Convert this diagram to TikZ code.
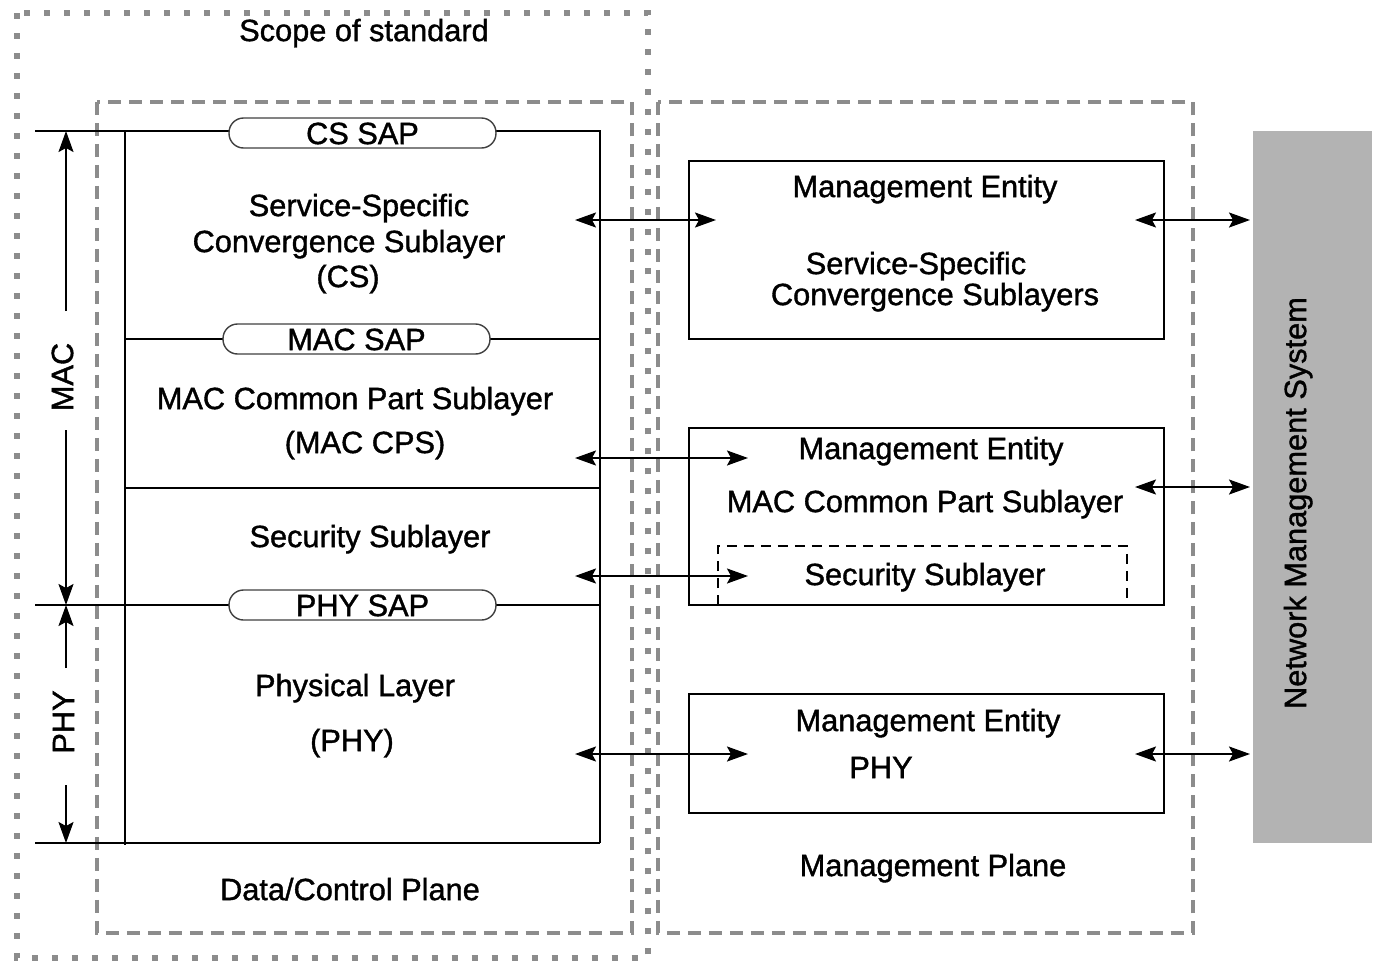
\documentclass[tikz,border=0pt]{standalone}
\usepackage{fontspec}
\setmainfont{Liberation Sans}[UprightFeatures={FakeBold=1.2}]
\usetikzlibrary{arrows.meta}
\definecolor{planegray}{HTML}{8C8C8C}
\definecolor{nmsgray}{HTML}{B3B3B3}
\begin{document}
\begin{tikzpicture}[x=0.02cm,y=-0.02cm,
  txt/.style={font=\fontsize{17.5}{20}\selectfont, inner sep=0pt, text height=12.6pt, text depth=0pt, anchor=center},
  frame/.style={line width=1.1pt, black},
  pill/.style={draw=black!75, line width=0.8pt, fill=white, rounded corners=0.29cm, minimum width=5.34cm, minimum height=0.6cm, inner sep=0pt, font=\fontsize{17.5}{20}\selectfont, text height=12.6pt, text depth=0pt},
  dbl/.style={line width=1.1pt, {Stealth[length=0.42cm,width=0.3cm,inset=0.08cm]}-{Stealth[length=0.42cm,width=0.3cm,inset=0.08cm]}},
  sarr/.style={line width=1.1pt, -{Stealth[length=0.42cm,width=0.3cm,inset=0.08cm]}},
  plane/.style={draw=planegray, line width=2.2pt, dash pattern=on 0.26cm off 0.16cm},
  scopebox/.style={draw=planegray, line width=3.4pt, dash pattern=on 0.12cm off 0.28cm},
  mebox/.style={draw=black, line width=1.1pt, minimum width=9.5cm, inner sep=0pt},
  secbox/.style={draw=black, line width=1.1pt, dash pattern=on 0.2cm off 0.14cm}
]
\useasboundingbox (0,0) rectangle (1376,961);

% scope and planes
\draw[scopebox] (17,13) rectangle (648,958);
\node[txt] (scope) at (364,30) {Scope of standard};
\draw[plane] (97,102) rectangle (632,933);
\draw[plane] (658,102) rectangle (1193,933);
\node[txt] (dcp) at (350,889) {Data/Control Plane};
\node[txt] (mp) at (933,865) {Management Plane};

% left stack frame
\draw[frame] (35,131) -- (600,131) -- (600,843);
\draw[frame] (35,843) -- (600,843);
\draw[frame] (125,131) -- (125,845);
\draw[frame] (125,339) -- (600,339);
\draw[frame] (125,488) -- (600,488);
\draw[frame] (35,605) -- (600,605);

% SAPs
\node[pill] (cssap) at (362.5,133) {CS SAP};
\node[pill] (macsap) at (356.5,339) {MAC SAP};
\node[pill] (physap) at (362.5,605) {PHY SAP};

% left layer texts
\node[txt] (cs1) at (359,205) {Service-Specific};
\node[txt] (cs2) at (349,241) {Convergence Sublayer};
\node[txt] (cs3) at (348,276) {(CS)};
\node[txt] (cps1) at (355,398) {MAC Common Part Sublayer};
\node[txt] (cps2) at (365,442) {(MAC CPS)};
\node[txt] (sec) at (370,536) {Security Sublayer};
\node[txt] (phy1) at (355,685) {Physical Layer};
\node[txt] (phy2) at (352,740) {(PHY)};

% MAC / PHY extents
\node[txt, rotate=90] (maclbl) at (62,377) {MAC};
\node[txt, rotate=90] (phylbl) at (63,722) {PHY};
\coordinate (macA) at (66,311);
\coordinate (macTop) at (66,131);
\coordinate (macB) at (66,430);
\coordinate (macBot) at (66,605);
\coordinate (phyA) at (66,668);
\coordinate (phyTop) at (66,605);
\coordinate (phyB) at (66,785);
\coordinate (phyBot) at (66,843);
\draw[sarr] (macA) -- (macTop);
\draw[sarr] (macB) -- (macBot);
\draw[sarr] (phyA) -- (phyTop);
\draw[sarr] (phyB) -- (phyBot);

% management entities
\node[mebox, minimum height=3.56cm] (me1) at (926.5,250) {};
\node[mebox, minimum height=3.54cm] (me2) at (926.5,516.5) {};
\node[mebox, minimum height=2.38cm] (me3) at (926.5,753.5) {};
\draw[secbox] (718,605) -- (718,546) -- (1127,546) -- (1127,605);

\node[txt] (me1a) at (925,186) {Management Entity};
\node[txt] (me1b) at (916,263) {Service-Specific};
\node[txt] (me1c) at (935,294) {Convergence Sublayers};
\node[txt] (me2a) at (931,448) {Management Entity};
\node[txt] (me2b) at (925,501) {MAC Common Part Sublayer};
\node[txt] (me2c) at (925,574) {Security Sublayer};
\node[txt] (me3a) at (928,720) {Management Entity};
\node[txt] (me3b) at (881,767) {PHY};

% NMS
\node[fill=nmsgray, minimum width=2.38cm, minimum height=14.24cm, inner sep=0pt] (nms) at (1312.5,487) {};
\node[txt, rotate=90] (nmslbl) at (1295,503) {Network Management System};

% data plane <-> management entity arrows
\coordinate (l1) at (575,220); \coordinate (r1) at (716,220);
\coordinate (l2) at (575,458); \coordinate (r2) at (748,458);
\coordinate (l3) at (575,576); \coordinate (r3) at (748,576);
\coordinate (l4) at (575,754); \coordinate (r4) at (748,754);
\draw[dbl] (l1) -- (r1);
\draw[dbl] (l2) -- (r2);
\draw[dbl] (l3) -- (r3);
\draw[dbl] (l4) -- (r4);

% management entity <-> NMS arrows
\coordinate (m1) at (1135,220); \coordinate (n1) at (1250,220);
\coordinate (m2) at (1135,487); \coordinate (n2) at (1250,487);
\coordinate (m3) at (1135,754); \coordinate (n3) at (1250,754);
\draw[dbl] (m1) -- (n1);
\draw[dbl] (m2) -- (n2);
\draw[dbl] (m3) -- (n3);
\end{tikzpicture}
\end{document}
